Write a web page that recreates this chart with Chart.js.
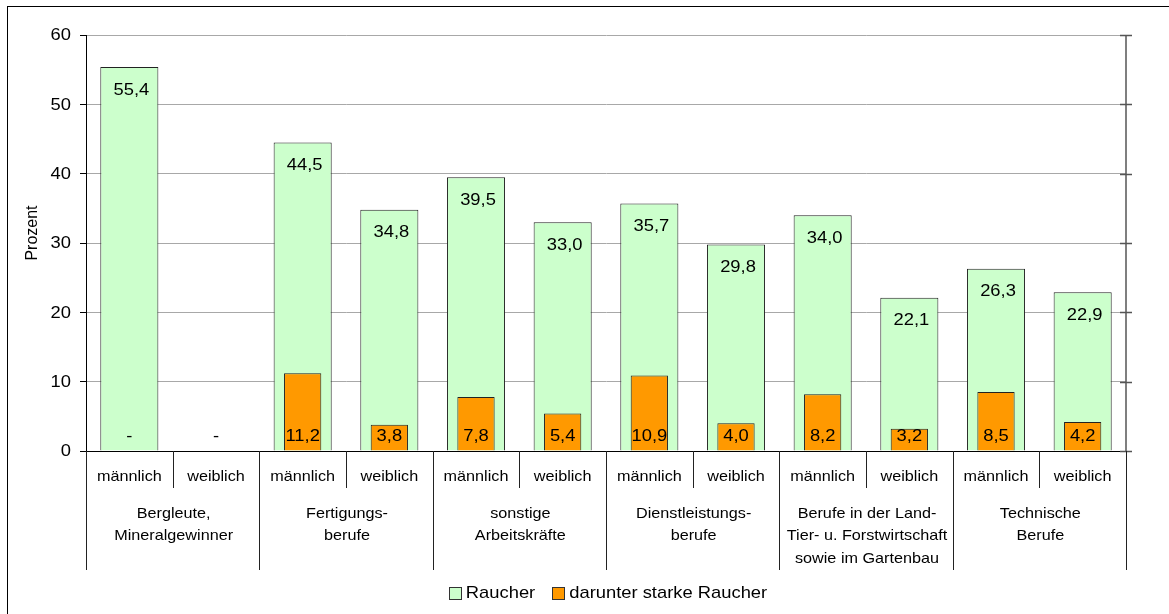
<!DOCTYPE html>
<html>
<head>
<meta charset="utf-8">
<script src="https://cdn.jsdelivr.net/npm/chart.js@4.4.0/dist/chart.umd.min.js"></script>
<style>
  html, body { margin: 0; padding: 0; background: #fff; }
  canvas { display: block; }
</style>
</head>
<body>
<canvas id="chart" width="1169" height="614"></canvas>
<script>
// Occupational groups (lower axis row) and sex (upper axis row)
const groups = [
  ["Bergleute,", "Mineralgewinner"],
  ["Fertigungs-", "berufe"],
  ["sonstige", "Arbeitskräfte"],
  ["Dienstleistungs-", "berufe"],
  ["Berufe in der Land-", "Tier- u. Forstwirtschaft", "sowie im Gartenbau"],
  ["Technische", "Berufe"]
];
const categories = [
  "männlich", "weiblich", "männlich", "weiblich", "männlich", "weiblich",
  "männlich", "weiblich", "männlich", "weiblich", "männlich", "weiblich"
];
// Share of smokers in percent, null = no value ("-")
const raucher = [55.4, null, 44.5, 34.8, 39.5, 33.0, 35.7, 29.8, 34.0, 22.1, 26.3, 22.9];
const starkeRaucher = [null, null, 11.2, 3.8, 7.8, 5.4, 10.9, 4.0, 8.2, 3.2, 8.5, 4.2];
const yTicks = [0, 10, 20, 30, 40, 50, 60];
const seriesNames = ["Raucher", "darunter starke Raucher"];

const FAMILY = '"Liberation Sans", Arial, sans-serif';
const BIG = '17px ' + FAMILY;
const SMALL = '15px ' + FAMILY;
const STRETCH = 1.08;

function text(ctx, s, x, y, align, font) {
  ctx.save();
  ctx.font = font;
  ctx.translate(x, y);
  ctx.scale(STRETCH, 1);
  ctx.textAlign = align;
  ctx.textBaseline = 'middle';
  ctx.fillStyle = '#000';
  ctx.fillText(s, 0, 0);
  ctx.restore();
}
function textWidth(ctx, s, font) {
  ctx.save();
  ctx.font = font;
  const w = ctx.measureText(s).width * STRETCH;
  ctx.restore();
  return w;
}
const fmt = v => v.toFixed(1).replace('.', ',');

const decor = {
  id: 'decor',
  afterDraw(chart) {
    const ctx = chart.ctx;
    const area = chart.chartArea;
    const xs = chart.scales.x;
    const ys = chart.scales.y;
    const base = ys.getPixelForValue(0);

    ctx.save();
    // frame round the whole chart
    ctx.strokeStyle = '#000';
    ctx.lineWidth = 1;
    ctx.strokeRect(7.5, 6.5, 1300, 700);

    // right-hand axis with ticks crossing it
    ctx.strokeStyle = '#555';
    ctx.lineWidth = 1.5;
    ctx.beginPath();
    ctx.moveTo(area.right, area.top);
    ctx.lineTo(area.right, base);
    yTicks.forEach(v => {
      const y = Math.round(ys.getPixelForValue(v)) + 0.5;
      ctx.moveTo(area.right - 6, y);
      ctx.lineTo(area.right + 6, y);
    });
    ctx.stroke();

    // y tick labels
    yTicks.forEach(v => text(ctx, String(v), 71, ys.getPixelForValue(v) + 0.5, 'right', BIG));

    // y axis title
    ctx.save();
    ctx.translate(33, 233);
    ctx.rotate(-Math.PI / 2);
    ctx.font = '16px ' + FAMILY;
    ctx.textAlign = 'center';
    ctx.textBaseline = 'middle';
    ctx.fillStyle = '#000';
    ctx.fillText('Prozent', 0, 0);
    ctx.restore();

    // value labels: smokers inside the top of the bar
    const m0 = chart.getDatasetMeta(0);
    raucher.forEach((v, i) => {
      if (v === null) return;
      const el = m0.data[i];
      text(ctx, fmt(v), el.x + 2, el.y + 23, 'center', BIG);
    });
    // heavy smokers at the bottom of the bar, "-" where there is no value
    starkeRaucher.forEach((v, i) => {
      const x = xs.getPixelForValue(i);
      text(ctx, v === null ? '-' : fmt(v), x, base - 15, 'center', BIG);
    });

    // separators under the axis
    const n = categories.length;
    const px = i => xs.getPixelForValue(i);
    ctx.strokeStyle = '#222';
    ctx.lineWidth = 1;
    ctx.beginPath();
    for (let i = 0; i <= n; i++) {
      let bx;
      if (i === 0) bx = area.left;
      else if (i === n) bx = area.right;
      else bx = (px(i - 1) + px(i)) / 2;
      bx = Math.round(bx) + 0.5;
      const long = i % 2 === 0;
      ctx.moveTo(bx, base);
      ctx.lineTo(bx, long ? 570 : 488);
    }
    ctx.stroke();

    // sex labels
    categories.forEach((c, i) => text(ctx, c, px(i), 477, 'center', SMALL));

    // group labels
    groups.forEach((lines, g) => {
      const cx = (px(2 * g) + px(2 * g + 1)) / 2 + 1;
      lines.forEach((s, k) => text(ctx, s, cx, 513.5 + k * 22.7, 'center', SMALL));
    });

    // legend
    const colors = chart.data.datasets.map(d => d.backgroundColor);
    const box = 12, gap = 5, spacing = 17;
    const widths = seriesNames.map(s => textWidth(ctx, s, BIG));
    const total = widths.reduce((a, w) => a + box + gap + w, 0) + spacing * (seriesNames.length - 1);
    let lx = (area.left + area.right) / 2 + 2 - total / 2;
    const ly = 593;
    seriesNames.forEach((s, i) => {
      ctx.fillStyle = colors[i];
      ctx.fillRect(Math.round(lx) + 0.5, ly - 6 + 0.5, box, box);
      ctx.strokeStyle = '#333';
      ctx.strokeRect(Math.round(lx) + 0.5, ly - 6 + 0.5, box, box);
      text(ctx, s, lx + box + gap, ly + 0.5, 'left', BIG);
      lx += box + gap + widths[i] + spacing;
    });
    ctx.restore();
  }
};

new Chart(document.getElementById('chart'), {
  type: 'bar',
  data: {
    labels: categories,
    datasets: [
      {
        label: seriesNames[0],
        data: raucher,
        backgroundColor: '#CCFFCC',
        borderColor: '#222',
        borderWidth: 1,
        barPercentage: 0.67,
        categoryPercentage: 1,
        grouped: false,
        order: 2
      },
      {
        label: seriesNames[1],
        data: starkeRaucher,
        backgroundColor: '#FF9900',
        borderColor: '#222',
        borderWidth: 1,
        barPercentage: 0.43,
        categoryPercentage: 1,
        grouped: false,
        order: 1
      }
    ]
  },
  options: {
    responsive: false,
    animation: false,
    devicePixelRatio: 1,
    layout: { padding: { left: 0, right: 43, top: 35, bottom: 0 } },
    plugins: { legend: { display: false }, tooltip: { enabled: false } },
    scales: {
      x: {
        ticks: { display: false },
        grid: { display: false, drawTicks: false },
        border: { color: '#000', width: 1 },
        afterFit(s) { s.height = 163; }
      },
      y: {
        min: 0,
        max: 60,
        afterBuildTicks(s) { s.ticks = yTicks.map(v => ({ value: v })); },
        ticks: { display: false },
        grid: {
          color: c => (c.tick && c.tick.value === 0 ? '#000' : '#a8a8a8'),
          tickColor: '#000',
          tickLength: 6,
          drawTicks: true
        },
        border: { color: '#000', width: 1 },
        afterFit(s) { s.width = 86; }
      }
    }
  },
  plugins: [decor]
});
</script>
</body>
</html>
